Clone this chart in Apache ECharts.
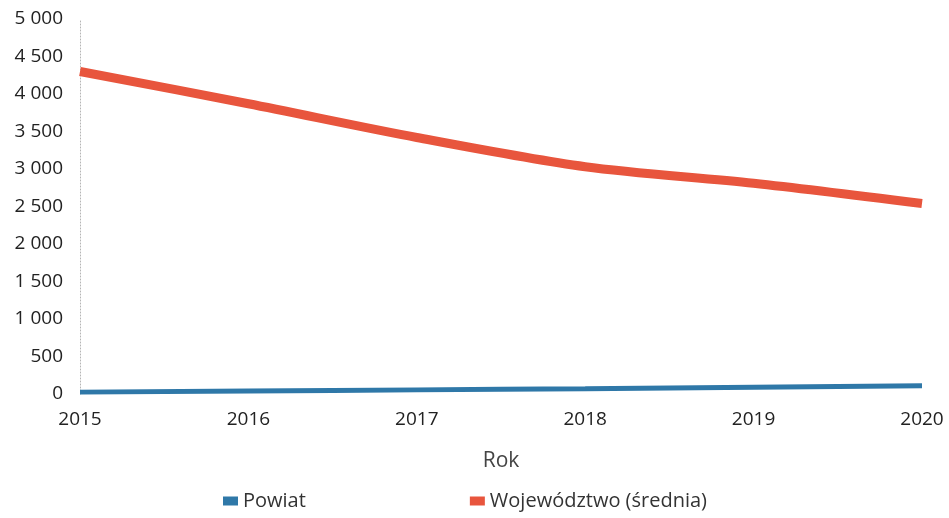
<!DOCTYPE html>
<html>
<head>
<meta charset="utf-8">
<script src="https://cdn.jsdelivr.net/npm/echarts@6/dist/echarts.min.js"></script>
<style>html,body{margin:0;padding:0;background:#fff;}#c{width:949px;height:518px;}</style>
</head>
<body>
<div id="c"></div>
<script>
const years = ['2015','2016','2017','2018','2019','2020'];
const powiat = [25, 40, 55, 70, 90, 110];
const wojewodztwo = [4300, 3870, 3420, 3030, 2810, 2540];
const seriesNames = ['Powiat', 'Województwo (średnia)'];

const chart = echarts.init(document.getElementById('c'));
const fmt = v => String(v).replace(/\B(?=(\d{3})+(?!\d))/g, ' ');
chart.setOption({
  animation: false,
  textStyle: { fontFamily: 'Open Sans' },
  grid: { left: 80, right: 27, top: 19, bottom: 124 },
  legend: {
    bottom: 2, left: 218, itemGap: 164, itemWidth: 15, itemHeight: 9,
    icon: 'rect',
    textStyle: { fontSize: 20, color: '#333', fontFamily: 'Open Sans' },
    data: seriesNames
  },
  xAxis: {
    type: 'category', data: years, boundaryGap: false,
    name: 'Rok', nameLocation: 'middle', nameGap: 57,
    nameTextStyle: { fontSize: 21, color: '#444' },
    axisLine: { show: false }, axisTick: { show: false },
    axisLabel: { fontSize: 19, color: '#222', margin: 16 }
  },
  yAxis: {
    type: 'value', min: 0, max: 5000, interval: 500,
    axisLine: { show: true, lineStyle: { color: '#b5b5b5', type: [1, 2], width: 1 } },
    axisTick: { show: false }, splitLine: { show: false },
    axisLabel: { fontSize: 19, color: '#222', margin: 17, formatter: fmt }
  },
  series: [
    { name: seriesNames[0], type: 'line', data: powiat, symbol: 'none', smooth: true,
      color: '#2f78a8', lineStyle: { width: 5, color: '#2f78a8' } },
    { name: seriesNames[1], type: 'line', data: wojewodztwo, symbol: 'none', smooth: 0.3,
      color: '#e8553d', lineStyle: { width: 9, color: '#e8553d' } }
  ]
});
</script>
</body>
</html>
